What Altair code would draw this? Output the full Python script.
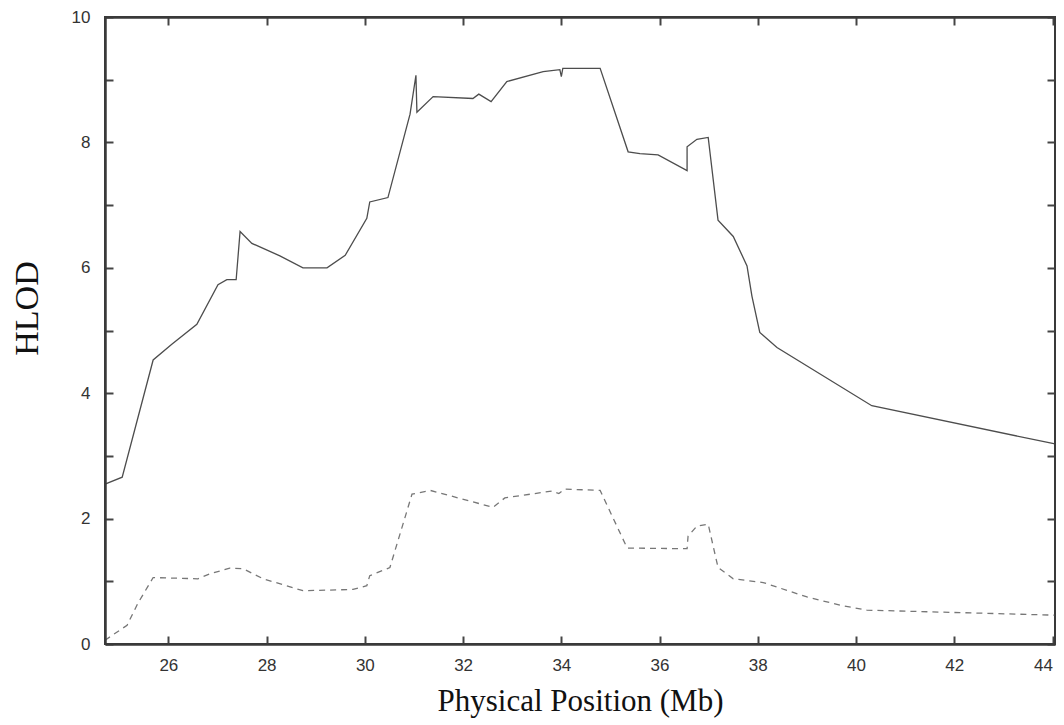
import altair as alt
import pandas as pd

# Solid curve (upper HLOD)
solid_x = [24.71, 25.06, 25.69, 26.07, 26.58, 27.01, 27.19, 27.38, 27.46, 27.70,
           28.27, 28.74, 29.23, 29.60, 30.04, 30.10, 30.47, 30.92, 31.04, 31.06,
           31.39, 32.20, 32.32, 32.57, 32.89, 33.63, 33.97, 34.00, 34.03, 34.79,
           35.36, 35.60, 35.97, 36.56, 36.56, 36.76, 36.99, 37.19, 37.50, 37.78,
           37.88, 38.04, 38.39, 40.32, 44.05]
solid_y = [2.55, 2.66, 4.53, 4.78, 5.10, 5.73, 5.81, 5.81, 6.58, 6.39,
           6.19, 6.00, 6.00, 6.20, 6.79, 7.05, 7.12, 8.45, 9.07, 8.48,
           8.73, 8.70, 8.77, 8.65, 8.97, 9.13, 9.16, 9.05, 9.18, 9.18,
           7.85, 7.82, 7.80, 7.55, 7.93, 8.05, 8.08, 6.76, 6.50, 6.03,
           5.55, 4.97, 4.73, 3.80, 3.19]

# Dashed curve (lower HLOD)
dash_x = [24.71, 25.16, 25.38, 25.69, 26.60, 26.85, 27.25, 27.52, 27.93, 28.74,
          29.76, 30.04, 30.10, 30.51, 30.96, 31.33, 32.61, 32.85, 33.81, 33.95,
          34.07, 34.79, 35.34, 36.56, 36.58, 36.76, 36.99, 37.19, 37.50, 38.11,
          39.00, 39.67, 40.22, 44.05]
dash_y = [0.06, 0.30, 0.65, 1.06, 1.04, 1.12, 1.21, 1.20, 1.04, 0.85,
          0.87, 0.93, 1.09, 1.22, 2.39, 2.45, 2.18, 2.33, 2.44, 2.40,
          2.47, 2.45, 1.53, 1.52, 1.72, 1.88, 1.91, 1.22, 1.04, 0.98,
          0.75, 0.62, 0.54, 0.46]

x_ticks = [26, 28, 30, 32, 34, 36, 38, 40, 42, 44]
y_ticks = [0, 1, 2, 3, 4, 5, 6, 7, 8, 9, 10]

df_s = pd.DataFrame({"pos": solid_x, "hlod": solid_y, "i": list(range(len(solid_x)))})
df_d = pd.DataFrame({"pos": dash_x, "hlod": dash_y, "i": list(range(len(dash_x)))})

xscale = alt.Scale(domain=[24.71, 44.05], nice=False, zero=False)
yscale = alt.Scale(domain=[0, 10], nice=False, zero=True)

tick_common = dict(offset=-8, tickSize=8, tickWidth=2, tickColor="#444",
                   domain=False, grid=False)
label_common = dict(labelFont="Liberation Sans", labelFontSize=17,
                    labelColor="#333", labelOverlap=False)
frame_common = dict(offset=0, domain=True, domainColor="#3a3a3a", domainWidth=2.5,
                    ticks=False, labels=False, grid=False, title=None, zindex=2)

solid = alt.Chart(df_s).mark_line(color="#4d4d4d", strokeWidth=1.3).encode(
    x=alt.X("pos:Q", scale=xscale,
            axis=alt.Axis(orient="bottom", values=x_ticks, labelPadding=13,
                          labelFlush=6,
                          title="Physical Position (Mb)",
                          titleFont="Liberation Serif", titleFontSize=31,
                          titleFontWeight="normal", titleColor="#111",
                          titleX=475, titleY=74, titleBaseline="alphabetic",
                          titleAlign="center",
                          **tick_common, **label_common)),
    y=alt.Y("hlod:Q", scale=yscale,
            axis=alt.Axis(orient="left", values=y_ticks, labelPadding=15,
                          labelFlush=False,
                          labelExpr="datum.value % 2 == 0 ? datum.label : ''",
                          title="HLOD",
                          titleFont="Liberation Serif", titleFontSize=34,
                          titleFontWeight="normal", titleColor="#111",
                          titleAngle=270, titleX=-86, titleY=291,
                          titleBaseline="middle", titleAlign="center",
                          **tick_common, **label_common)),
    order="i:Q",
)

dashed = alt.Chart(df_d).mark_line(color="#777777", strokeWidth=1.3,
                                   strokeDash=[6, 5]).encode(
    x=alt.X("pos:Q", scale=xscale,
            axis=alt.Axis(orient="top", values=x_ticks, labels=False, title=None,
                          **tick_common)),
    y=alt.Y("hlod:Q", scale=yscale,
            axis=alt.Axis(orient="right", values=y_ticks, labels=False, title=None,
                          **tick_common)),
    order="i:Q",
)

frame_bl = alt.Chart(df_s).mark_line(opacity=0).encode(
    x=alt.X("pos:Q", scale=xscale, axis=alt.Axis(orient="bottom", **frame_common)),
    y=alt.Y("hlod:Q", scale=yscale, axis=alt.Axis(orient="left", **frame_common)),
)

frame_tr = alt.Chart(df_s).mark_line(opacity=0).encode(
    x=alt.X("pos:Q", scale=xscale, axis=alt.Axis(orient="top", **frame_common)),
    y=alt.Y("hlod:Q", scale=yscale, axis=alt.Axis(orient="right", **frame_common)),
)

chart = alt.layer(solid, dashed, frame_bl, frame_tr).resolve_axis(
    x="independent", y="independent"
).properties(
    width=950, height=627,
    padding={"left": 97, "top": 9, "right": 1, "bottom": 78},
    autosize=alt.AutoSizeParams(type="none"),
    background="white",
).configure_view(stroke="#3a3a3a", strokeWidth=2)

chart.save("out.html", embed_options={"renderer": "svg", "actions": False})
